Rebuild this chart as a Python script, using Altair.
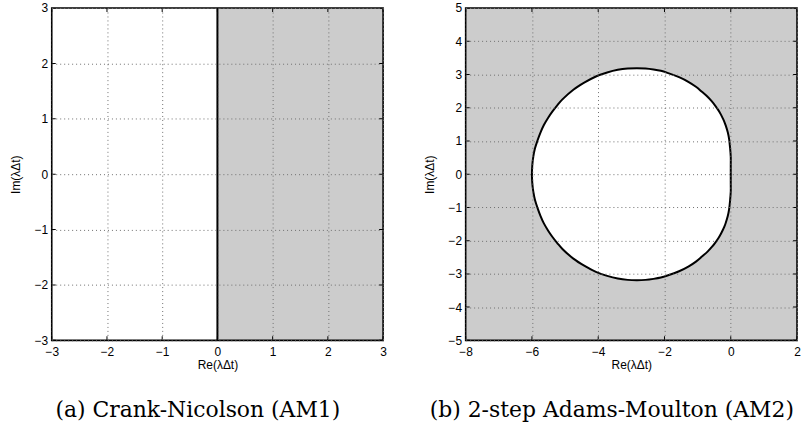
import altair as alt
import pandas as pd

# ---------------- Panel (a): Crank-Nicolson (AM1) ----------------
a_x_ticks = [-3, -2, -1, 0, 1, 2, 3]
a_y_ticks = [-3, -2, -1, 0, 1, 2, 3]
a_x_domain = [-3, 3]
a_y_domain = [-3, 3]
# unstable (shaded) half-plane Re > 0
a_shade_re = [0, 3]
a_shade_im = [-3, 3]
# stability boundary: imaginary axis
a_boundary_re = [0, 0]
a_boundary_im = [-3, 3]

# ---------------- Panel (b): 2-step Adams-Moulton (AM2) ----------------
b_x_ticks = [-8, -6, -4, -2, 0, 2]
b_y_ticks = [-5, -4, -3, -2, -1, 0, 1, 2, 3, 4, 5]
b_x_domain = [-8, 2]
b_y_domain = [-5, 5]
# stability boundary (closed curve)
b_boundary_re = [0.00, 0.00, 0.00, -0.02, -0.05, -0.09, -0.15, -0.19, -0.24, -0.30,
                 -0.37, -0.46, -0.57, -0.70, -0.86, -1.05, -1.28, -1.56, -1.91, -2.11,
                 -2.33, -2.57, -2.83, -3.11, -3.41, -3.73, -4.07, -4.41, -4.75, -5.08,
                 -5.23, -5.38, -5.51, -5.64, -5.74, -5.83, -5.91, -5.96, -5.99, -6.00,
                 -5.99, -5.96, -5.91, -5.83, -5.74, -5.64, -5.51, -5.38, -5.23, -5.08,
                 -4.75, -4.41, -4.07, -3.73, -3.41, -3.11, -2.83, -2.57, -2.33, -2.11,
                 -1.91, -1.56, -1.28, -1.05, -0.86, -0.70, -0.57, -0.46, -0.37, -0.30,
                 -0.24, -0.19, -0.15, -0.09, -0.05, -0.02, 0.00, 0.00, 0.00]
b_boundary_im = [0.00, 0.26, 0.52, 0.79, 1.06, 1.26, 1.46, 1.57, 1.68, 1.80,
                 1.92, 2.05, 2.19, 2.33, 2.47, 2.63, 2.78, 2.92, 3.05, 3.11,
                 3.15, 3.18, 3.19, 3.18, 3.14, 3.06, 2.94, 2.76, 2.54, 2.25,
                 2.08, 1.89, 1.70, 1.48, 1.26, 1.02, 0.77, 0.52, 0.26, 0.00,
                 -0.26, -0.52, -0.77, -1.02, -1.26, -1.48, -1.70, -1.89, -2.08, -2.25,
                 -2.54, -2.76, -2.94, -3.06, -3.14, -3.18, -3.19, -3.18, -3.15, -3.11,
                 -3.05, -2.92, -2.78, -2.63, -2.47, -2.33, -2.19, -2.05, -1.92, -1.80,
                 -1.68, -1.57, -1.46, -1.26, -1.06, -0.79, -0.52, -0.26, 0.00]

GRAY = "#cccccc"
LABEL_FONT = "Liberation Sans"
CAPTION_FONT = "DejaVu Serif"
PW, PH = 333, 334


def make_axis(values, title, title_padding, label_padding):
    return alt.Axis(values=values, title=title, format="d", grid=True,
                    gridColor="#6f6f6f", gridDash=[1, 3], gridWidth=1,
                    domain=False, ticks=False,
                    labelFont=LABEL_FONT, labelFontSize=12, labelColor="black",
                    labelPadding=label_padding, labelFlush=False, labelOverlap=False,
                    titleFont=LABEL_FONT, titleFontSize=12, titleFontWeight="normal",
                    titleColor="black", titlePadding=title_padding, zindex=1)


def panel(xdom, ydom, xticks, yticks, builders, caption):
    xs = alt.Scale(domain=xdom, nice=False, zero=False)
    ys = alt.Scale(domain=ydom, nice=False, zero=False)
    xa = make_axis(xticks, "Re(λΔt)", 2, 6)
    ya = make_axis(yticks, "Im(λΔt)", 12, 4)

    def X(f="x"):
        return alt.X(f + ":Q", scale=xs, axis=xa)

    def Y(f="y"):
        return alt.Y(f + ":Q", scale=ys, axis=ya)

    frame_df = pd.DataFrame({"x": [xdom[0]], "x2": [xdom[1]],
                             "y": [ydom[0]], "y2": [ydom[1]]})
    frame = alt.Chart(frame_df).mark_rect(fill="white", fillOpacity=0, stroke="black",
                                          strokeWidth=1.6).encode(
        x=X(), x2="x2", y=Y(), y2="y2")

    # inward tick marks on all four sides (MATLAB box style)
    ytick_df = pd.DataFrame({"y": yticks * 2,
                             "x": [xdom[0]] * len(yticks) + [xdom[1]] * len(yticks)})
    xtick_df = pd.DataFrame({"x": xticks * 2,
                             "y": [ydom[0]] * len(xticks) + [ydom[1]] * len(xticks)})
    yt = alt.Chart(ytick_df).mark_tick(orient="horizontal", size=8, thickness=1,
                                       color="black", clip=True, opacity=1).encode(
        x=X(), y=Y())
    xt = alt.Chart(xtick_df).mark_tick(orient="vertical", size=8, thickness=1,
                                       color="black", clip=True, opacity=1).encode(
        x=X(), y=Y())

    built = [b(X, Y) for b in builders]
    return alt.layer(*built, frame, yt, xt).properties(
        width=PW, height=PH,
        title=alt.TitleParams(caption, orient="bottom", anchor="middle", frame="bounds",
                              font=CAPTION_FONT, fontSize=22, fontWeight="normal",
                              color="black", offset=30))


# ---- layers for (a)
def a_shade(X, Y):
    df = pd.DataFrame({"x": [a_shade_re[0]], "x2": [a_shade_re[1]],
                       "y": [a_shade_im[0]], "y2": [a_shade_im[1]]})
    return alt.Chart(df).mark_rect(color=GRAY).encode(x=X(), x2="x2", y=Y(), y2="y2")


def a_line(X, Y):
    df = pd.DataFrame({"x": a_boundary_re, "y": a_boundary_im})
    return alt.Chart(df).mark_line(color="black", strokeWidth=2).encode(x=X(), y=Y())


# ---- layers for (b)
def b_shade(X, Y):
    df = pd.DataFrame({"x": [b_x_domain[0]], "x2": [b_x_domain[1]],
                       "y": [b_y_domain[0]], "y2": [b_y_domain[1]]})
    return alt.Chart(df).mark_rect(color=GRAY).encode(x=X(), x2="x2", y=Y(), y2="y2")


def b_curve(X, Y):
    df = pd.DataFrame({"x": b_boundary_re, "y": b_boundary_im,
                       "i": list(range(len(b_boundary_re)))})
    return alt.Chart(df).mark_line(fill="white", stroke="black", strokeWidth=2,
                                   interpolate="catmull-rom").encode(
        x=X(), y=Y(), order="i:Q")


left = panel(a_x_domain, a_y_domain, a_x_ticks, a_y_ticks, [a_shade, a_line],
             "(a) Crank-Nicolson (AM1)")
right = panel(b_x_domain, b_y_domain, b_x_ticks, b_y_ticks, [b_shade, b_curve],
              "(b) 2-step Adams-Moulton (AM2)")

chart = alt.hconcat(left, right, spacing=83, bounds="flush").properties(
    padding={"left": 9, "top": 1, "right": 0, "bottom": 0},
    background="white",
).configure_view(stroke=None)

chart.save("out.html", embed_options={"renderer": "svg", "actions": False})
